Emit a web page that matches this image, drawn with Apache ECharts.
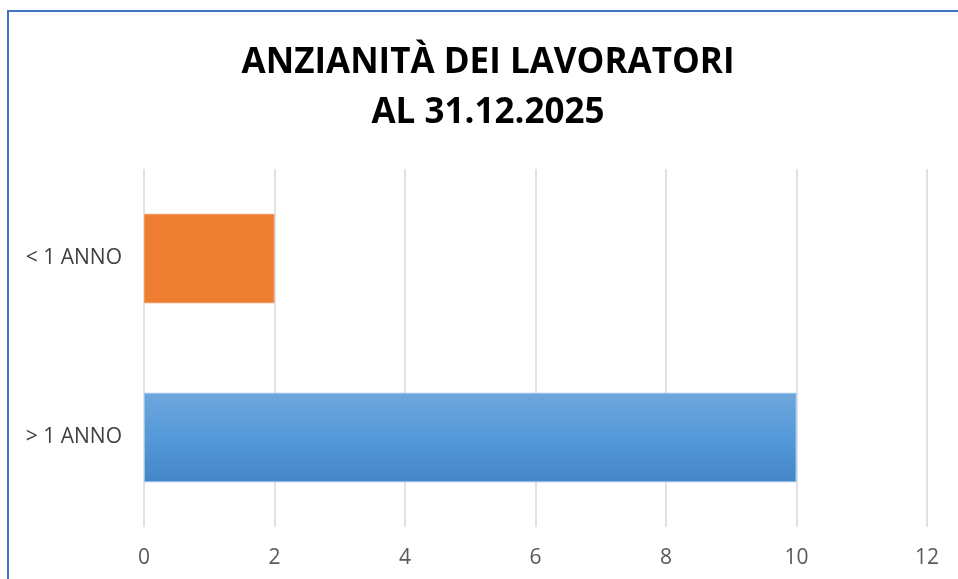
<!DOCTYPE html>
<html><head><meta charset="utf-8">
<script src="https://cdn.jsdelivr.net/npm/echarts@6/dist/echarts.min.js"></script>
<style>html,body{margin:0;padding:0;background:#fff}#c{width:958px;height:579px}</style>
</head><body><div id="c"></div>
<script>
const categories = ['> 1 ANNO', '< 1 ANNO'];
const values = [10, 2];
const xTicks = [0, 2, 4, 6, 8, 10, 12];
const titleLines = ['ANZIANITÀ DEI LAVORATORI', 'AL 31.12.2025'];

const blueGrad = new echarts.graphic.LinearGradient(0, 0, 0, 1, [
  {offset: 0, color: '#6ea6dc'}, {offset: 0.5, color: '#5499d9'}, {offset: 1, color: '#4485c8'}
]);
const itemStyles = [
  {color: blueGrad, borderColor: '#9cc3e8', borderWidth: 1},
  {color: '#ed7d31', borderColor: '#f29a5e', borderWidth: 1}
];

const chart = echarts.init(document.getElementById('c'), null, {renderer: 'canvas'});
chart.setOption({
  backgroundColor: '#fff',
  animation: false,
  title: {
    text: titleLines.join('\n'),
    left: 488, top: 38, textAlign: 'center', padding: 0,
    textStyle: {fontFamily: 'Open Sans', fontWeight: 'bold', fontSize: 35, color: '#000', lineHeight: 50}
  },
  graphic: [{
    type: 'rect', shape: {x: 8, y: 11, width: 1200, height: 1200},
    style: {fill: 'none', stroke: '#4472c4', lineWidth: 2}, silent: true
  }],
  grid: {left: 144, right: 31, top: 169, bottom: 52},
  xAxis: {
    type: 'value', min: xTicks[0], max: xTicks[xTicks.length - 1], interval: 2,
    axisLine: {show: false}, axisTick: {show: false},
    axisLabel: {fontFamily: 'Open Sans', fontSize: 21, color: '#595959', margin: 21},
    splitLine: {lineStyle: {color: '#dde1ea', width: 2}}
  },
  yAxis: {
    type: 'category', data: categories,
    axisLine: {show: false}, axisTick: {show: false},
    axisLabel: {fontFamily: 'Open Sans', fontSize: 21, color: '#404040', margin: 22}
  },
  series: [{
    type: 'bar', barWidth: '50%',
    data: values.map((v, i) => ({value: v, itemStyle: itemStyles[i]}))
  }]
});
</script></body></html>
